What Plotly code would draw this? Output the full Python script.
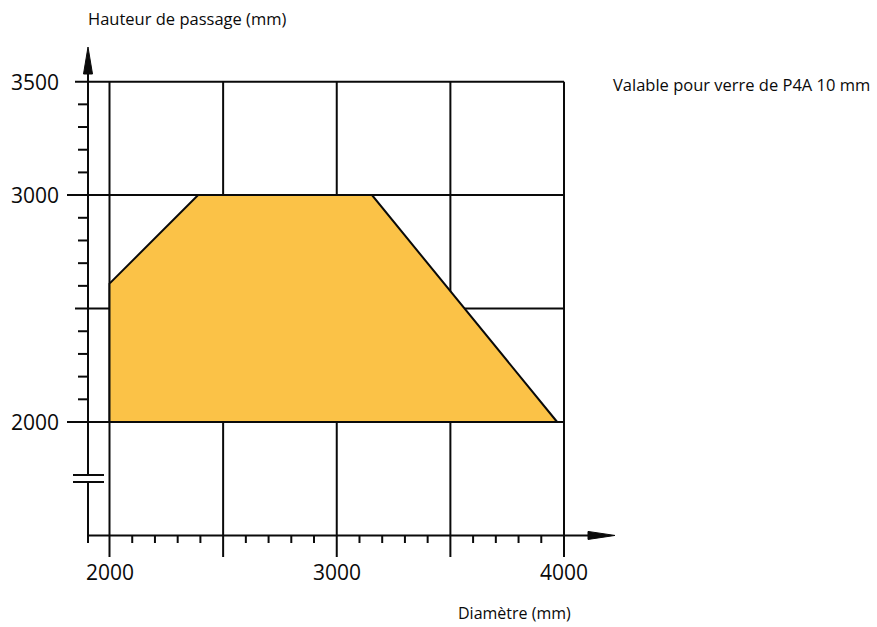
import plotly.graph_objects as go

# Usable zone (diameter vs. passage height, mm)
zone_x = [2000, 2000, 2390, 3155, 3970, 2000]
zone_y = [2000, 2610, 3000, 3000, 2000, 2000]

# Grid / tick definitions
x_major = [2000, 2500, 3000, 3500, 4000]
y_major = [2000, 2500, 3000, 3500]
x_minor = [v for v in range(2000, 4000, 100) if v % 500]
y_minor = [v for v in range(2000, 3500, 100) if v % 500]
x_tick_labels = ["2000", "3000", "4000"]
x_tick_values = [2000, 3000, 4000]
y_tick_labels = ["2000", "3000", "3500"]
y_tick_values = [2000, 3000, 3500]

W, H = 877, 627
# pixel scale of the drawing (px per mm) and origin in pixels
SX, SY = 0.22725, 0.2269
OX, OY = 109.5, 422.0


def mx(px):
    return 2000 + (px - OX) / SX


def my(py):
    return 2000 + (OY - py) / SY


BLACK = "#0a0a0a"
LW = 2

x_axis_y = 1500
y_axis_x = mx(88)

shapes = []


def seg(x0, y0, x1, y1, w=LW):
    shapes.append(dict(type="line", x0=x0, y0=y0, x1=x1, y1=y1,
                       line=dict(color=BLACK, width=w), layer="below"))


# horizontal grid lines (start just right of the labels)
h_start = {3500: mx(75), 3000: mx(67), 2500: mx(75), 2000: mx(67)}
for v in y_major:
    seg(h_start[v], v, 4000, v)

# vertical grid lines from the top line down below the x axis
for v in x_major:
    seg(v, 3500, v, my(557))

# y axis, interrupted by the break symbol
brk_hi, brk_lo = my(475), my(482)
seg(y_axis_x, my(543), y_axis_x, brk_lo)
seg(y_axis_x, brk_hi, y_axis_x, my(73))
seg(mx(73), brk_hi, mx(104), brk_hi)
seg(mx(73), brk_lo, mx(104), brk_lo)

# x axis
seg(y_axis_x, x_axis_y, mx(590), x_axis_y)

# minor ticks
for v in y_minor:
    seg(mx(78), v, y_axis_x, v)
for v in x_minor:
    seg(v, x_axis_y, v, my(543))

# arrow heads
tip_y, base_y, hw = my(47), my(74), 4.5 / SX
shapes.append(dict(type="path",
                   path=f"M {y_axis_x},{tip_y} L {y_axis_x - hw},{base_y} L {y_axis_x + hw},{base_y} Z",
                   fillcolor=BLACK, line=dict(color=BLACK, width=1), layer="below"))
tip_x, base_x, hh = mx(615), mx(588), 4.0 / SY
shapes.append(dict(type="path",
                   path=f"M {tip_x},{x_axis_y} L {base_x},{x_axis_y + hh} L {base_x},{x_axis_y - hh} Z",
                   fillcolor=BLACK, line=dict(color=BLACK, width=1), layer="below"))

fig = go.Figure()
fig.add_trace(go.Scatter(
    x=zone_x, y=zone_y, mode="lines", fill="toself",
    fillcolor="#FBC247", line=dict(color=BLACK, width=2),
    hoverinfo="skip", showlegend=False))

annotations = []
num_font = dict(family="Open Sans", size=21, color=BLACK)
for lab, v in zip(y_tick_labels, y_tick_values):
    annotations.append(dict(x=mx(61), y=v, text=lab, showarrow=False,
                            xanchor="right", yanchor="middle", font=num_font))
for lab, v in zip(x_tick_labels, x_tick_values):
    annotations.append(dict(x=v, y=my(572), text=lab, showarrow=False,
                            xanchor="center", yanchor="middle", font=num_font))

txt_font = dict(family="Open Sans", size=16.5, color=BLACK)
for text, px, py, fs in [("Hauteur de passage (mm)", 87, 18, 16.5),
                         ("Valable pour verre de P4A 10 mm", 612, 84, 16.5),
                         ("Diamètre (mm)", 457, 613, 16)]:
    annotations.append(dict(x=px / W, y=1 - py / H, xref="paper", yref="paper",
                            text=text, showarrow=False, xanchor="left",
                            yanchor="middle", borderpad=0,
                            font=dict(txt_font, size=fs)))

fig.update_layout(
    width=W, height=H, margin=dict(l=0, r=0, t=0, b=0),
    paper_bgcolor="white", plot_bgcolor="white",
    xaxis=dict(range=[mx(0), mx(W)], visible=False, fixedrange=True),
    yaxis=dict(range=[my(H), my(0)], visible=False, fixedrange=True),
    shapes=shapes, annotations=annotations, showlegend=False)

fig.write_html("out.html")
